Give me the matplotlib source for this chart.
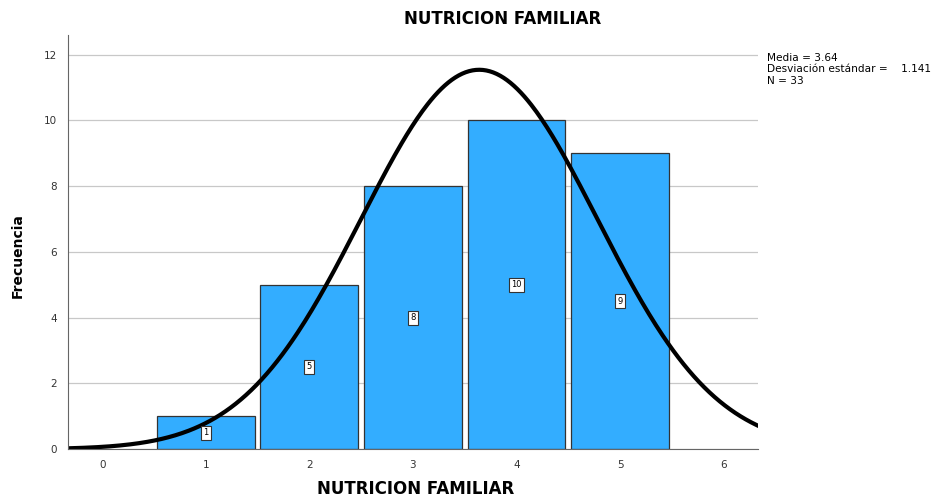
import matplotlib.pyplot as plt
import numpy as np

plt.rcParams['font.family'] = ['DejaVu Sans']

valores = [1, 2, 3, 4, 5]
frecuencias = [1, 5, 8, 10, 9]
media = 3.64
desv = 1.141
n = 33

fig = plt.figure(figsize=(9.31, 4.98), dpi=100)
ax = fig.add_axes([0.073, 0.098, 0.741, 0.832])

ax.set_axisbelow(True)
ax.yaxis.grid(True, color='#c8c8c8', linewidth=0.9)
ax.bar(valores, frecuencias, width=0.945, color='#33adff', edgecolor='#333333', linewidth=0.9)

for v, f in zip(valores, frecuencias):
    ax.text(v, f / 2, str(f), ha='center', va='center', fontsize=6,
            bbox=dict(boxstyle='square,pad=0.3', fc='white', ec='#333333', lw=0.8))

xs = np.linspace(-0.33, 6.33, 400)
ys = n * np.exp(-0.5 * ((xs - media) / desv) ** 2) / (desv * np.sqrt(2 * np.pi))
ax.plot(xs, ys, color='black', linewidth=3)

ax.set_xlim(-0.33, 6.33)
ax.set_ylim(0, 12.6)
ax.set_xticks(range(0, 7))
ax.set_yticks(range(0, 13, 2))
ax.tick_params(length=0, labelsize=7.5, colors='#333333', pad=8)
for s in ['top', 'right']:
    ax.spines[s].set_visible(False)
for s in ['left', 'bottom']:
    ax.spines[s].set_color('#666666')

fig.text(0.54, 0.962, 'NUTRICION FAMILIAR', fontsize=12, fontweight='bold',
         ha='center', va='center')
fig.text(0.446, 0.018, 'NUTRICION FAMILIAR', fontsize=12, fontweight='bold',
         ha='center', va='center')
fig.text(0.019, 0.486, 'Frecuencia', fontsize=10, fontweight='bold',
         ha='center', va='center', rotation=90)

fig.text(0.824, 0.893, 'Media = 3.64\nDesviación estándar =    1.141\nN = 33',
         fontsize=7.6, va='top', linespacing=1.15)

fig.savefig('out.png', dpi=100)
